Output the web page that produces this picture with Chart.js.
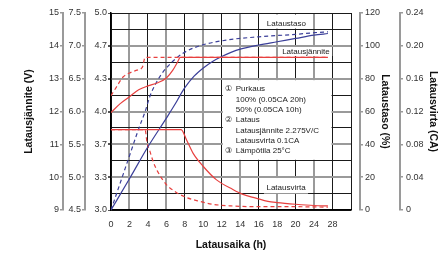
<!DOCTYPE html>
<html>
<head>
<meta charset="utf-8">
<script src="https://cdn.jsdelivr.net/npm/chart.js@4.4.0/dist/chart.umd.min.js"></script>
<style>
  body { margin: 0; background: #fff; }
  #wrap { width: 443px; height: 257px; }
</style>
</head>
<body>
<div id="wrap"><canvas id="chargeChart"></canvas></div>
<script>
// x axis labels: steps are 2 h up to 20 h, then 4 h
const hourLabels = ['0', '2', '4', '6', '8', '10', '12', '14', '16', '18', '20', '24', '28', ''];

// charging voltage on the 4 V scale, [hours, V]
const voltAfter100 = [[0, 3.99], [1, 4.08], [2, 4.15], [3, 4.22], [4, 4.26], [5, 4.29], [6, 4.34],
  [6.7, 4.42], [7.2, 4.5], [7.5, 4.55], [27, 4.55]];
const voltAfter50 = [[0, 4.16], [0.6, 4.25], [1.3, 4.35], [2, 4.39], [2.8, 4.42], [3.4, 4.45],
  [3.7, 4.55], [27, 4.55]];

// state of charge (%), [hours, %]
const levelAfter100 = [[0, 0], [2, 19], [4, 38.5], [6, 56], [7, 65], [7.5, 70], [8, 74.5], [9, 81.5],
  [10, 86.5], [11, 90.5], [12, 93.5], [13, 96], [14, 98], [16, 100.5], [18, 102.5], [20, 104.5],
  [24, 106.5], [27, 107.5]];
const levelAfter50 = [[0, 0], [1, 16.5], [2, 33], [3, 49.5], [3.7, 60], [4.2, 69], [4.8, 76.5],
  [5.5, 83], [6.5, 89.5], [7.8, 95.5], [9.6, 100], [12.5, 103.5], [16, 105.5], [20, 107],
  [24, 108], [27, 108.5]];

// charging current (CA), [hours, CA]
const currentAfter100 = [[0, 0.098], [7.6, 0.098], [8.2, 0.085], [8.9, 0.069], [10, 0.053],
  [11.4, 0.037], [13.2, 0.025], [14.3, 0.019], [15.7, 0.0145], [17, 0.0105], [18, 0.009],
  [20, 0.007], [24, 0.0055], [27, 0.005]];
const currentAfter50 = [[0, 0.098], [3.7, 0.098], [3.9, 0.082], [4.2, 0.072], [4.6, 0.058],
  [5, 0.048], [6, 0.031], [7, 0.022], [8, 0.016], [9.6, 0.0105], [11, 0.007], [13, 0.005],
  [16, 0.004], [20, 0.004], [27, 0.0035]];

const RED = '#e8403f';
const BLUE = '#3b3f99';
const GRAY = '#9a9a9a';
const FONT = '"Liberation Sans", Arial, sans-serif';

// hours -> position on the (uneven) x axis
function hourPos(h) {
  return h <= 20 ? h / 2 : 10 + (h - 20) / 4;
}
function toPoints(pairs) {
  return pairs.map(([h, v]) => ({ x: hourPos(h), y: v }));
}

function line(data, color, axis, dashed) {
  return {
    data: toPoints(data),
    yAxisID: axis,
    borderColor: color,
    borderWidth: 1.2,
    borderDash: dashed ? [4, 3] : [],
    pointRadius: 0,
    fill: false,
    cubicInterpolationMode: 'monotone',
  };
}

const tickFont = { family: FONT, size: 9 };
const titleFont = { family: FONT, size: 10.5, weight: 'bold' };

function sideAxis(position, min, max, step, width, weight, fmt, title, titlePad, tickPad) {
  return {
    type: 'linear',
    position,
    weight,
    min,
    max,
    ticks: {
      stepSize: step,
      autoSkip: false,
      font: tickFont,
      color: '#333',
      padding: tickPad,
      callback: fmt,
    },
    grid: { drawOnChartArea: false, tickLength: 3, color: GRAY, lineWidth: 1.5 },
    border: { display: true, color: GRAY, width: 2 },
    title: { display: true, text: title, font: titleFont, color: '#111', padding: { top: titlePad, bottom: 0 } },
    afterFit: (s) => { s.width = width; },
  };
}

// white boxes with the notes, drawn over the grid
const notes = {
  id: 'notes',
  beforeDatasetsDraw(chart) {
    const { ctx } = chart;
    const x = chart.scales.x;
    const y = chart.scales.yV;
    ctx.save();
    ctx.font = '8px ' + FONT;
    ctx.textBaseline = 'middle';

    // legend box
    const l = x.getPixelForValue(6), r = x.getPixelForValue(12);
    const t = y.getPixelForValue(3 + 8 / 6), b = y.getPixelForValue(3 + 3 / 6);
    ctx.fillStyle = '#fff';
    ctx.fillRect(l + 1, t + 1.5, r - l - 2, b - t - 2.5);
    const rows = [
      ['\u2460', 'Purkaus'],
      ['', '100% (0.05CA 20h)'],
      ['', '50% (0.05CA 10h)'],
      ['\u2461', 'Lataus'],
      ['', 'Latausjännite 2.275V/C'],
      ['', 'Latausvirta 0.1CA'],
      ['\u2462', 'Lämpötila 25°C'],
    ];
    ctx.fillStyle = '#222';
    ctx.textAlign = 'left';
    rows.forEach(([num, text], i) => {
      const ty = t + 10.5 + i * 10.3;
      if (num) ctx.fillText(num, l + 3, ty);
      ctx.fillText(text, l + 14, ty);
    });

    // curve labels
    const tags = [
      ['Lataustaso', 9.5, 4.893, -9, 5],
      ['Latausjännite', 10.56, 4.609, -4.5, 4.5],
      ['Latausvirta', 9.48, 3.228, -9.5, 6],
    ];
    ctx.textAlign = 'center';
    tags.forEach(([text, px, pv, up, down]) => {
      const cx = x.getPixelForValue(px);
      const cy = y.getPixelForValue(pv);
      const w = ctx.measureText(text).width;
      ctx.fillStyle = '#fff';
      ctx.fillRect(cx - w / 2 - 2.5, cy + up, w + 5, down - up);
      ctx.fillStyle = '#222';
      ctx.fillText(text, cx, cy);
    });
    ctx.restore();
  },
};

new Chart(document.getElementById('chargeChart'), {
  type: 'line',
  data: {
    datasets: [
      line(voltAfter100, RED, 'yV', false),
      line(currentAfter100, RED, 'yCA', false),
      line(levelAfter100, BLUE, 'yPct', false),
      line(voltAfter50, RED, 'yV', true),
      line(currentAfter50, RED, 'yCA', true),
      line(levelAfter50, BLUE, 'yPct', true),
    ],
  },
  options: {
    responsive: true,
    maintainAspectRatio: false,
    animation: false,
    layout: { padding: { top: 13, left: 0, right: 0, bottom: 0 } },
    plugins: { legend: { display: false }, tooltip: { enabled: false } },
    scales: {
      x: {
        type: 'linear',
        min: 0,
        max: 13,
        ticks: {
          stepSize: 1,
          autoSkip: false,
          font: tickFont,
          color: '#333',
          padding: 9,
          maxRotation: 0,
          callback: (v) => hourLabels[Math.round(v)] ?? '',
        },
        grid: {
          drawTicks: false,
          color: (c) => (c.tick && c.tick.value % 2 === 1 && c.tick.value !== 13 ? GRAY : '#1a1a1a'),
          lineWidth: (c) => (c.tick && c.tick.value % 2 === 1 && c.tick.value !== 13 ? 2 : 1),
        },
        border: { display: true, color: '#000', width: 1.5 },
        title: { display: true, text: 'Latausaika (h)', font: titleFont, color: '#111', padding: { top: 0, bottom: 5.7 } },
        afterFit: (s) => { s.height = 47; },
      },
      y9: sideAxis('left', 9, 15, 1, 63, 2, (v) => String(v), 'Latausjännite (V)', 22.7, 1),
      y45: sideAxis('left', 4.5, 7.5, 0.5, 22, 1, (v) => v.toFixed(1), '', 0, 1),
      yV: {
        type: 'linear',
        position: 'left',
        weight: 0,
        min: 3,
        max: 5,
        ticks: {
          count: 13,
          autoSkip: false,
          font: tickFont,
          color: '#333',
          padding: 1,
          callback: (v) => {
            const i = Math.round((v - 3) * 6);
            return i % 2 === 0 ? (3 + i / 6).toFixed(1) : '';
          },
        },
        grid: {
          tickLength: 3,
          color: (c) => {
            const i = Math.round((c.tick.value - 3) * 6);
            return i % 2 === 0 && i !== 0 && i !== 12 ? GRAY : '#1a1a1a';
          },
          lineWidth: (c) => {
            const i = Math.round((c.tick.value - 3) * 6);
            return i % 2 === 0 && i !== 0 && i !== 12 ? 2 : 1;
          },
          tickColor: (c) => {
            const i = Math.round((c.tick.value - 3) * 6);
            return i % 2 === 0 ? '#555' : 'rgba(0,0,0,0)';
          },
        },
        border: { display: true, color: '#000', width: 1.5 },
        afterFit: (s) => { s.width = 26; },
      },
      gap: {
        type: 'linear',
        position: 'right',
        weight: 0,
        ticks: { display: false },
        grid: { display: false },
        border: { display: false },
        afterFit: (s) => { s.width = 9; },
      },
      yPct: sideAxis('right', 0, 120, 20, 40, 1, (v) => String(v), 'Lataustaso (%)', 8.7, 2),
      yCA: sideAxis('right', 0, 0.24, 0.04, 43, 2, (v) => (v === 0 ? '0' : v.toFixed(2)), 'Latausvirta (CA)', 4.2, 3),
    },
  },
  plugins: [notes],
});
</script>
</body>
</html>
